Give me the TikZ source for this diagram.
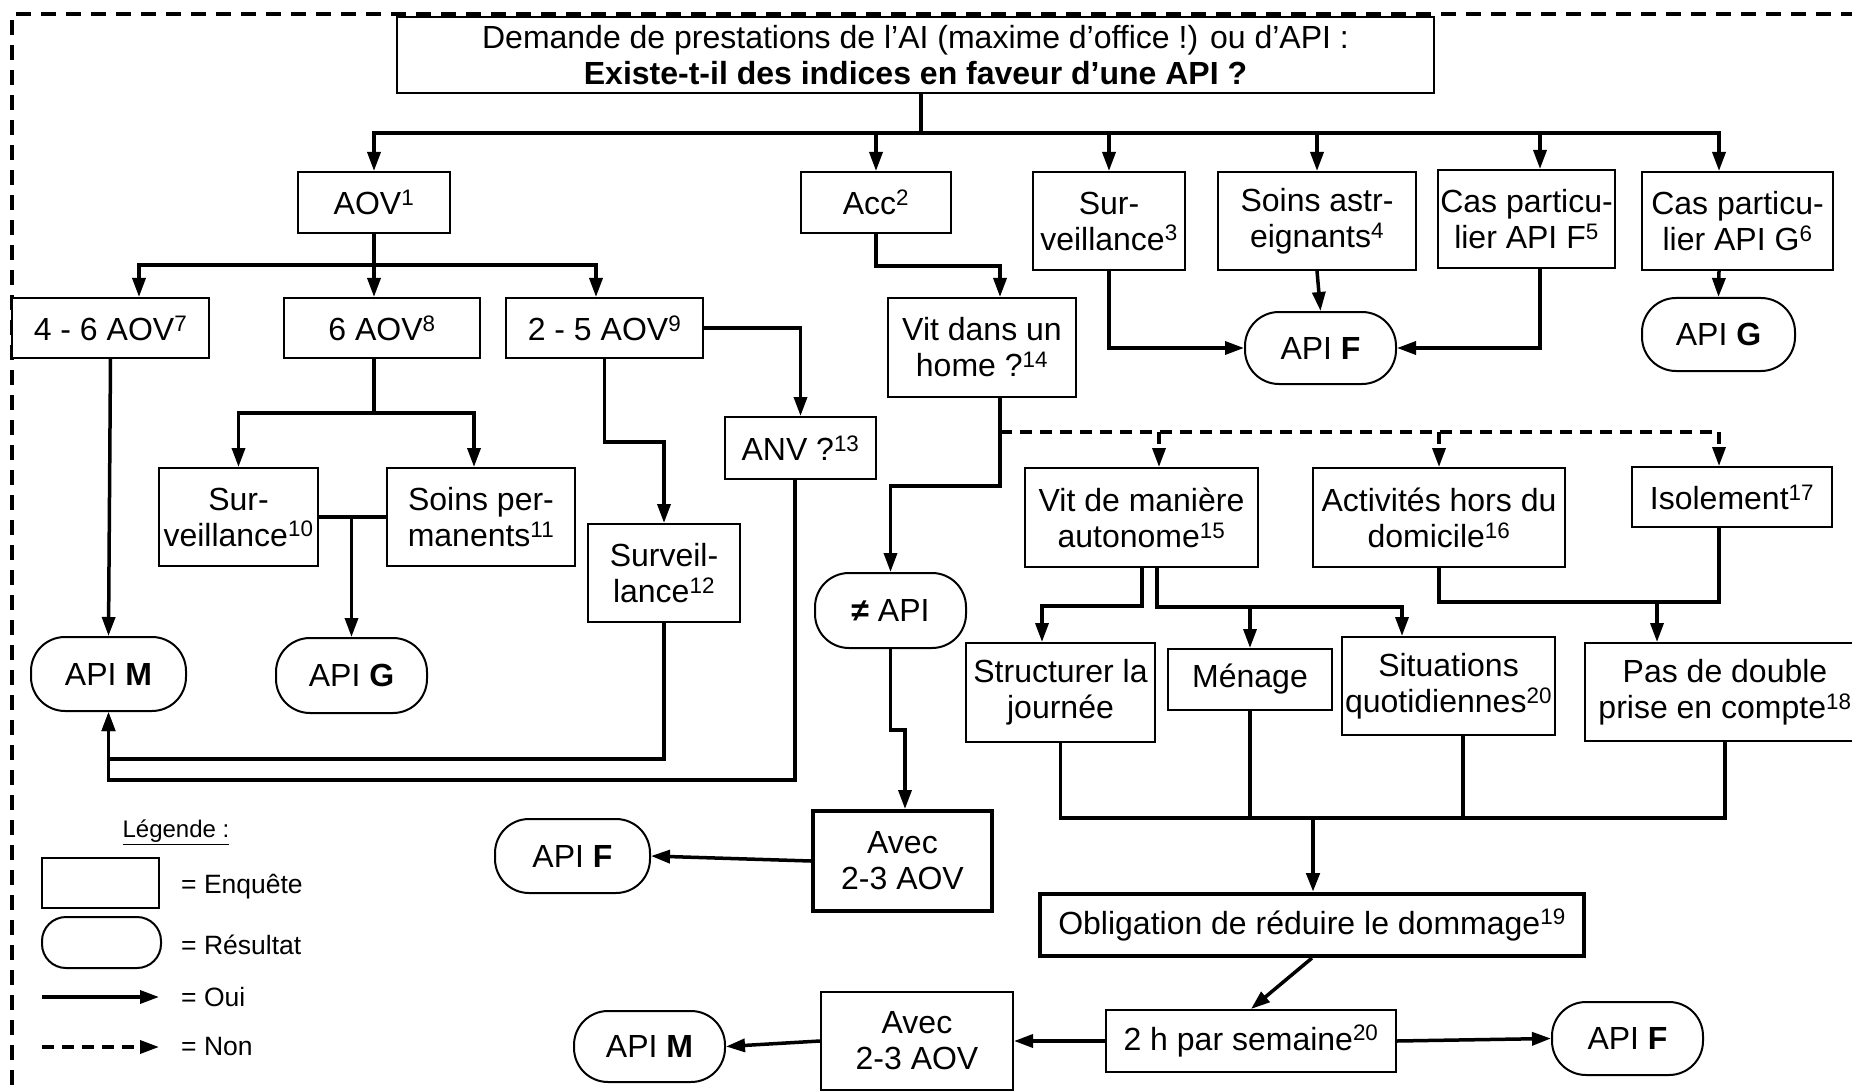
\documentclass[tikz,border=0pt]{standalone}
\usepackage{fontspec}
\setmainfont{Liberation Sans}
\usetikzlibrary{arrows.meta,calc}

\begin{document}
\begin{tikzpicture}[x=1pt,y=-1pt]
    % `enquete' is used for the question boxes, `fort' for the boxes with a heavy frame.
    % `resultat' is used for the round result boxes.
    % `oui' and `non' are the solid and dashed arrows.
    \tikzstyle{enquete} = [draw,fill=white,line width=2pt,inner sep=0pt,align=center,font=\fontsize{32}{36}\selectfont]
    \tikzstyle{fort} = [enquete,line width=4pt]
    \tikzstyle{resultat} = [enquete,rounded corners=34pt]
    \tikzstyle{link} = [line width=3.5pt]
    \tikzstyle{oui} = [link,-{Triangle[length=19pt,width=13pt]}]
    \tikzstyle{tiret} = [link,dash pattern=on 12pt off 8pt]
    \tikzstyle{non} = [oui,dash pattern=on 12pt off 8pt]
    \tikzstyle{legtext} = [anchor=west,inner sep=0pt,font=\fontsize{26.5}{30}\selectfont]
    %
    \useasboundingbox (0,0) rectangle (1852,1091);
    % outer frame, open at right and bottom
    \draw[line width=4pt,dash pattern=on 15pt off 10pt] (12,1110) -- (12,14) -- (1870,14);
    %
    \node[enquete,minimum width=1037pt,minimum height=76pt] (top) at (915.5,55)
      {Demande de prestations de l’AI (maxime d’office !) ou d’API :\\\textbf{Existe-t-il des indices en faveur d’une API ?}};
    \node[enquete,minimum width=152pt,minimum height=61pt] (aov) at (374,202.5) {AOV\textsuperscript{1}};
    \node[enquete,minimum width=150pt,minimum height=61pt] (acc) at (876,202.5) {Acc\textsuperscript{2}};
    \node[enquete,minimum width=152pt,minimum height=98pt] (survA) at (1109,221) {Sur-\\veillance\textsuperscript{3}};
    \node[enquete,minimum width=198pt,minimum height=98pt] (soinsA) at (1317,221) {Soins astr-\\eignants\textsuperscript{4}};
    \node[enquete,minimum width=177pt,minimum height=98pt] (casF) at (1526.5,219) {Cas particu-\\lier API F\textsuperscript{5}};
    \node[enquete,minimum width=191pt,minimum height=98pt] (casG) at (1737.5,221) {Cas particu-\\lier API G\textsuperscript{6}};
    \node[resultat,minimum width=151pt,minimum height=72pt] (apiFa) at (1320.5,348) {API \textbf{F}};
    \node[resultat,minimum width=153pt,minimum height=73pt] (apiGa) at (1718.5,334.5) {API \textbf{G}};
    %
    \node[enquete,minimum width=197pt,minimum height=60pt] (aovA) at (110.5,328) {4 - 6 AOV\textsuperscript{7}};
    \node[enquete,minimum width=196pt,minimum height=60pt] (aovB) at (382,328) {6 AOV\textsuperscript{8}};
    \node[enquete,minimum width=197pt,minimum height=60pt] (aovC) at (604.5,328) {2 - 5 AOV\textsuperscript{9}};
    \node[enquete,minimum width=188pt,minimum height=99pt] (home) at (982,347.5) {Vit dans un\\home ?\textsuperscript{14}};
    \node[enquete,minimum width=151pt,minimum height=62pt] (anv) at (800.5,448) {ANV ?\textsuperscript{13}};
    \node[enquete,minimum width=159pt,minimum height=98pt] (survB) at (238.5,517) {Sur-\\veillance\textsuperscript{10}};
    \node[enquete,minimum width=188pt,minimum height=98pt] (soinsB) at (481,517) {Soins per-\\manents\textsuperscript{11}};
    \node[enquete,minimum width=152pt,minimum height=98pt] (survC) at (664,573) {Surveil-\\lance\textsuperscript{12}};
    \node[resultat,minimum width=155pt,minimum height=74pt] (apiMa) at (108.5,674) {API \textbf{M}};
    \node[resultat,minimum width=151pt,minimum height=75pt] (apiGb) at (351.5,675.5) {API \textbf{G}};
    \node[resultat,minimum width=151pt,minimum height=75pt] (nonapi) at (890.5,610.5) {\textbf{≠} API};
    %
    \node[enquete,minimum width=233pt,minimum height=99pt] (autonome) at (1141.5,517.5) {Vit de manière\\autonome\textsuperscript{15}};
    \node[enquete,minimum width=252pt,minimum height=99pt] (activ) at (1439,517.5) {Activités hors du\\domicile\textsuperscript{16}};
    \node[enquete,minimum width=200pt,minimum height=60pt] (isol) at (1732,497) {Isolement\textsuperscript{17}};
    \node[enquete,minimum width=189pt,minimum height=99pt] (struct) at (1060.5,692.5) {Structurer la\\journée};
    \node[enquete,minimum width=164pt,minimum height=61pt] (menage) at (1250,679.5) {Ménage};
    \node[enquete,minimum width=213pt,minimum height=98pt] (situ) at (1448.5,686) {Situations\\quotidiennes\textsuperscript{20}};
    \node[enquete,minimum width=280pt,minimum height=98pt] (double) at (1725,692) {Pas de double\\prise en compte\textsuperscript{18}};
    %
    \node[fort,minimum width=179pt,minimum height=100pt] (avecA) at (902.5,861) {Avec\\2-3 AOV};
    \node[resultat,minimum width=155pt,minimum height=74pt] (apiFb) at (572.5,856) {API \textbf{F}};
    \node[fort,minimum width=544pt,minimum height=62pt] (oblig) at (1312,925) {Obligation de réduire le dommage\textsuperscript{19}};
    \node[enquete,minimum width=290pt,minimum height=62pt] (heures) at (1251,1041) {2 h par semaine\textsuperscript{20}};
    \node[resultat,minimum width=151pt,minimum height=73pt] (apiFc) at (1627.5,1038.5) {API \textbf{F}};
    \node[enquete,minimum width=192pt,minimum height=98pt] (avecB) at (917,1041) {Avec\\2-3 AOV};
    \node[resultat,minimum width=151pt,minimum height=71pt] (apiMb) at (649.5,1046.5) {API \textbf{M}};
    %
    % legend
    \node[legtext,anchor=center,font=\fontsize{24}{28}\selectfont] (legende) at (176,832) {\underline{Légende :}};
    \node[enquete,minimum width=117pt,minimum height=50pt] (legenq) at (100.5,883) {};
    \node[resultat,rounded corners=24pt,minimum width=119pt,minimum height=51pt] (legres) at (101.5,942.5) {};
    \node[legtext] (txtenq) at (181,887) {= Enquête};
    \node[legtext] (txtres) at (181,945) {= Résultat};
    \node[legtext] (txtoui) at (181,997) {= Oui};
    \node[legtext] (txtnon) at (181,1047) {= Non};
    \coordinate (ouiA) at (42,997);
    \coordinate (ouiB) at (159,997);
    \coordinate (nonA) at (42,1047);
    \coordinate (nonB) at (159,1047);
    \draw[oui] (ouiA) -- (ouiB);
    \draw[non] (nonA) -- (nonB);
    %
    % first level
    \coordinate (bus) at (921,133);
    \draw[link] (bus |- top.south) -- (bus);
    \draw[oui] (bus) -| (aov);
    \draw[oui] (bus) -| (acc);
    \draw[oui] (bus) -| (survA);
    \draw[oui] (bus) -| (soinsA);
    \draw[oui] (bus) -| ([xshift=13.5pt]casF.north);
    \draw[oui] (bus) -| ([xshift=-18.5pt]casG.north);
    \draw[oui] (survA.south) |- (apiFa.west);
    \draw[oui] (soinsA.south) -- (apiFa.north);
    \draw[oui] ([xshift=13.5pt]casF.south) |- (apiFa.east);
    \draw[oui] ([xshift=-18.5pt]casG.south) -- (apiGa.north);
    %
    % AOV branch
    \coordinate (aovbus) at (374,265);
    \draw[link] (aov.south) -- (aovbus);
    \draw[oui] (aovbus) -| ([xshift=28.5pt]aovA.north);
    \draw[oui] (aovbus) -| ([xshift=-8pt]aovB.north);
    \draw[oui] (aovbus) -| ([xshift=-8.5pt]aovC.north);
    \draw[oui] (aovA.south) -- (apiMa.north);
    \coordinate (sixbus) at (374,413);
    \draw[link] ([xshift=-8pt]aovB.south) -- (sixbus);
    \draw[oui] (sixbus) -| (survB);
    \draw[oui] (sixbus) -| ([xshift=-7pt]soinsB.north);
    \draw[link] (survB.east) -- (soinsB.west);
    \draw[oui] (apiGb.north |- survB.east) -- (apiGb.north);
    \draw[oui] (aovC.south) -- ++(0,83) -| (survC);
    \draw[oui] (aovC.east) -| (anv);
    \draw[oui] (survC.south) -- ++(0,136) -| (apiMa.south);
    \draw[oui] ([xshift=-5.5pt]anv.south) -- ++(0,300) -| (apiMa.south);
    %
    % Acc branch
    \draw[oui] (acc.south) -- ++(0,32) -| ([xshift=18pt]home.north);
    \draw[oui] ([xshift=18pt]home.south) -- ++(0,88) -| (nonapi);
    \coordinate (nonbus) at (1000,432);
    \draw[tiret] (nonbus) -- ([xshift=-13pt]isol.north |- nonbus);
    \draw[non] ([xshift=17.5pt]autonome.north |- nonbus) -- ([xshift=17.5pt]autonome.north);
    \draw[non] (activ.north |- nonbus) -- (activ.north);
    \draw[non] ([xshift=-13pt]isol.north |- nonbus) -- ([xshift=-13pt]isol.north);
    \draw[oui] (nonapi.south) -- ++(0,81) -| ([xshift=2.5pt]avecA.north);
    \draw[oui] (avecA.west) -- (apiFb.east);
    %
    \coordinate (autobus) at (1157,607);
    \draw[oui] ([xshift=0.5pt]autonome.south) -- ++(0,38) -| ([xshift=-18.5pt]struct.north);
    \draw[oui] ([xshift=15.5pt]autonome.south) -- (autobus) -| ([xshift=-46.5pt]situ.north);
    \draw[oui] (autobus -| menage.north) -- (menage.north);
    \coordinate (dblbus) at (1657,602);
    \draw[link] (activ.south) |- (dblbus) -| ([xshift=-13pt]isol.south);
    \draw[oui] (dblbus) -- (dblbus |- double.north);
    %
    \coordinate (basbus) at (1313,818);
    \draw[link] (struct.south) |- (basbus);
    \draw[link] (double.south) |- (basbus);
    \draw[link] (menage.south) -- (menage.south |- basbus);
    \draw[link] ([xshift=14.5pt]situ.south) -- ([xshift=14.5pt]situ.south |- basbus);
    \draw[oui,line width=4.5pt] (basbus) -- (basbus |- oblig.north);
    \draw[oui] (oblig.south) -- (heures.north);
    \draw[oui] (heures.east) -- (apiFc.west);
    \draw[oui] (heures.west) -- (avecB.east);
    \draw[oui] (avecB.west) -- (apiMb.east);
\end{tikzpicture}
\end{document}
